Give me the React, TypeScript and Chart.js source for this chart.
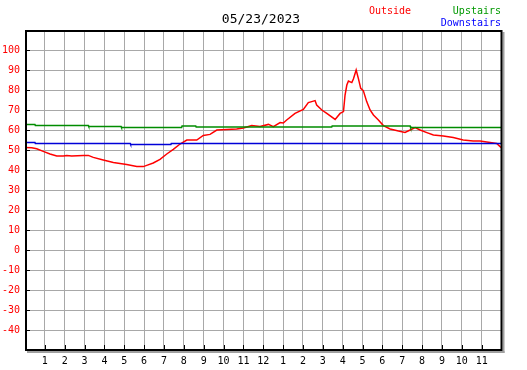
import React, { useEffect, useRef } from "react";
import { Chart, registerables } from "chart.js";

Chart.register(...registerables);

const titleText = "05/23/2023";
const seriesNames = ["Outside", "Upstairs", "Downstairs"];
const seriesColors = ["#ff0000", "#008c00", "#0000d8"];
const legendTextColors = ["#ff0000", "#009900", "#0000ff"];

const hourLabels = ["", "1", "2", "3", "4", "5", "6", "7", "8", "9", "10", "11", "12", "1", "2", "3", "4", "5", "6", "7", "8", "9", "10", "11", ""];
const yTickValues = [-40, -30, -20, -10, 0, 10, 20, 30, 40, 50, 60, 70, 80, 90, 100];

const outsideHours = [0, 0.34, 0.59, 0.92, 1.26, 1.6, 1.93, 2.1, 2.35, 2.94, 3.19, 3.44, 3.94, 4.45, 5.12, 5.63, 5.96, 6.13, 6.46, 6.8, 7.14, 7.47, 7.81, 8.15, 8.65, 8.98, 9.32, 9.66, 10.16, 10.66, 11.0, 11.42, 11.84, 12.26, 12.51, 12.85, 13.01, 13.18, 13.6, 14.02, 14.27, 14.44, 14.61, 14.69, 14.95, 15.2, 15.62, 15.87, 16.04, 16.12, 16.21, 16.29, 16.46, 16.54, 16.68, 16.79, 16.91, 17.04, 17.21, 17.38, 17.55, 17.8, 18.05, 18.39, 18.81, 19.14, 19.4, 19.65, 19.9, 20.24, 20.57, 21.07, 21.57, 22.07, 22.57, 22.92, 23.43, 23.76, 23.93, 24.0];
const outsideTemps = [51.3, 51.1, 50.6, 49.3, 48, 47, 47, 47.3, 47, 47.3, 47.3, 46.3, 45, 43.7, 42.8, 41.7, 41.7, 42.3, 43.5, 45.3, 48, 50.3, 53, 55, 55, 57.3, 57.8, 60, 60.3, 60.5, 61, 62.2, 61.7, 62.8, 61.7, 63.7, 63.5, 65, 68.3, 70.3, 73.7, 74.2, 74.7, 72.5, 70, 68.3, 65.3, 68.3, 69.2, 77.5, 82.5, 84.5, 83.7, 85.5, 90, 85.8, 80.8, 79.7, 74.2, 70, 67.5, 65, 62.2, 60.5, 59.5, 58.8, 60, 61.2, 60, 58.7, 57.5, 57, 56.2, 55, 54.5, 54.5, 53.8, 53.3, 51.7, 51.2];

const upstairsHours = [0, 0.5, 0.52, 3.19, 3.21, 4.84, 4.86, 7.89, 7.91, 8.6, 8.62, 15.45, 15.47, 19.4, 19.42, 24];
const upstairsTemps = [62.8, 62.8, 62.3, 62.3, 61.8, 61.8, 61.3, 61.3, 62, 62, 61.5, 61.5, 62, 62, 61.3, 61.3];

const downstairsHours = [0, 0.5, 0.52, 5.3, 5.32, 7.35, 7.37, 24];
const downstairsTemps = [53.8, 53.8, 53.3, 53.3, 52.8, 52.8, 53.3, 53.3];

const MONO = "'DejaVu Sans Mono', monospace";

function toPoints(xs: number[], ys: number[]) {
  return xs.map((x, i) => ({ x, y: ys[i] }));
}

export default function App() {
  const ref = useRef<HTMLCanvasElement | null>(null);

  useEffect(() => {
    document.body.style.margin = "0";
    const canvas = ref.current;
    if (!canvas) return;

    const framePlugin = {
      id: "frame",
      afterDraw(chart: any) {
        const ctx = chart.ctx;
        const { left, right, top, bottom } = chart.chartArea;
        const xs = chart.scales.x;
        const ys = chart.scales.y;
        ctx.save();
        // shadow
        ctx.fillStyle = "#a0a0a0";
        ctx.fillRect(right + 1, top + 2, 2, bottom - top + 1);
        ctx.fillRect(left + 2, bottom + 1, right - left + 1, 2);
        // border
        ctx.strokeStyle = "#000";
        ctx.lineWidth = 2;
        ctx.strokeRect(left + 1, top + 1, right - left - 1, bottom - top - 1);
        // tick marks
        ctx.lineWidth = 1;
        ctx.beginPath();
        for (let h = 1; h <= 23; h++) {
          const x = Math.round(xs.getPixelForValue(h)) + 0.5;
          ctx.moveTo(x, bottom);
          ctx.lineTo(x, bottom - 5);
        }
        for (const v of yTickValues) {
          const y = Math.round(ys.getPixelForValue(v)) + 0.5;
          ctx.moveTo(left, y);
          ctx.lineTo(left + 5, y);
        }
        ctx.stroke();
        // title
        ctx.fillStyle = "#000";
        ctx.font = `13px ${MONO}`;
        ctx.textAlign = "center";
        ctx.textBaseline = "middle";
        ctx.fillText(titleText, 261, 20);
        // legend
        ctx.font = `10px ${MONO}`;
        ctx.textAlign = "left";
        ctx.fillStyle = legendTextColors[0];
        ctx.fillText(seriesNames[0], 369, 11.5);
        ctx.textAlign = "right";
        ctx.fillStyle = legendTextColors[1];
        ctx.fillText(seriesNames[1], 501, 11.5);
        ctx.fillStyle = legendTextColors[2];
        ctx.fillText(seriesNames[2], 501, 23.5);
        ctx.restore();
      },
    };

    const chart = new Chart(canvas, {
      type: "line",
      data: {
        datasets: [
          { label: seriesNames[2], data: toPoints(downstairsHours, downstairsTemps), borderColor: seriesColors[2], borderWidth: 1.5 },
          { label: seriesNames[1], data: toPoints(upstairsHours, upstairsTemps), borderColor: seriesColors[1], borderWidth: 1.5 },
          { label: seriesNames[0], data: toPoints(outsideHours, outsideTemps), borderColor: seriesColors[0], borderWidth: 1.5 },
        ],
      },
      options: {
        animation: false,
        responsive: false,
        maintainAspectRatio: false,
        events: [],
        layout: { padding: { top: 30, right: 25.5, left: 0, bottom: 0 } },
        elements: { point: { radius: 0 }, line: { tension: 0, fill: false } },
        plugins: { legend: { display: false }, tooltip: { enabled: false }, title: { display: false } },
        scales: {
          x: {
            type: "linear",
            min: 0,
            max: 24,
            afterFit: (s: any) => { s.height = 20; },
            afterBuildTicks: (s: any) => { s.ticks = hourLabels.map((_, i) => ({ value: i })); },
            ticks: {
              stepSize: 1,
              autoSkip: false,
              maxRotation: 0,
              color: "#000",
              font: { family: MONO, size: 10 },
              padding: 5,
              callback: (v: any) => hourLabels[Math.round(Number(v))] ?? "",
            },
            grid: { color: "#a8a8a8", lineWidth: 1, drawTicks: false },
            border: { display: false },
          },
          y: {
            type: "linear",
            min: -50,
            max: 110,
            afterFit: (s: any) => { s.width = 25; },
            ticks: {
              stepSize: 10,
              autoSkip: false,
              color: "#ff0000",
              font: { family: MONO, size: 10 },
              padding: 5,
              callback: (v: any) => (yTickValues.includes(Number(v)) ? String(v) : ""),
            },
            grid: { color: "#a8a8a8", lineWidth: 1, drawTicks: false },
            border: { display: false },
          },
        },
      },
      plugins: [framePlugin],
    });

    return () => chart.destroy();
  }, []);

  return <canvas ref={ref} width={527} height={370} style={{ display: "block", width: 527, height: 370 }} />;
}
